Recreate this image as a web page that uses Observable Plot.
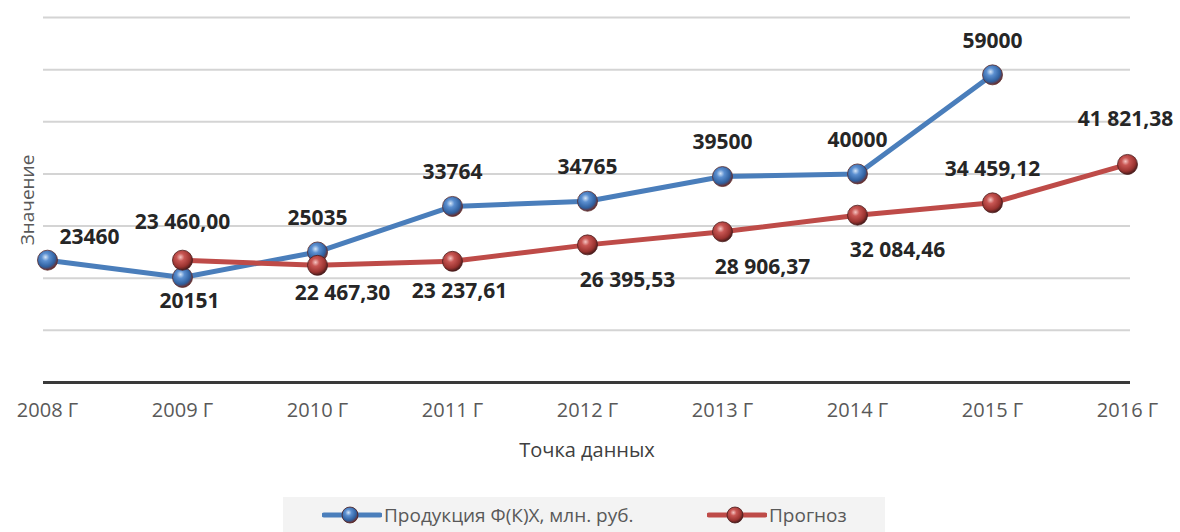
<!DOCTYPE html>
<html>
<head>
<meta charset="utf-8">
<script src="https://cdn.jsdelivr.net/npm/d3@7"></script>
<script src="https://cdn.jsdelivr.net/npm/@observablehq/plot@0.6"></script>
<style>
  html, body { margin: 0; padding: 0; background: #fff; }
  #wrap { position: relative; width: 1180px; height: 532px; font-family: "Open Sans", sans-serif; }
  #legend { position: absolute; left: 283px; top: 497px; width: 602px; height: 35px; background: #f3f3f3; }
  .item { position: absolute; top: 0; height: 35px; display: flex; align-items: center; font-size: 19px; color: #595959; white-space: nowrap; }
  .item svg { margin-right: 2px; }
</style>
</head>
<body>
<div id="wrap"><div id="chart"></div><div id="legend"></div></div>
<script>
// ---- data ----
const years = [2008, 2009, 2010, 2011, 2012, 2013, 2014, 2015, 2016];
const productionYears = [2008, 2009, 2010, 2011, 2012, 2013, 2014, 2015];
const productionValues = [23460, 20151, 25035, 33764, 34765, 39500, 40000, 59000];
const forecastYears = [2009, 2010, 2011, 2012, 2013, 2014, 2015, 2016];
const forecastValues = [23460.00, 22467.30, 23237.61, 26395.53, 28906.37, 32084.46, 34459.12, 41821.38];
const gridValues = [10000, 20000, 30000, 40000, 50000, 60000, 70000];
const seriesNames = ["Продукция Ф(К)Х, млн. руб.", "Прогноз"];
const xTitle = "Точка данных";
const yTitle = "Значение";

// label placement keys (style, not data)
const productionPlacement = ["ne", "s", "n", "n", "n", "n", "n", "n"];
const forecastPlacement = ["n2", "se1", "s1", "se2", "se2", "se2", "n", "n3"];
const placements = {
  n: {dx: 0, dy: -34}, n2: {dx: 0, dy: -38}, n3: {dx: -2, dy: -45},
  ne: {dx: 42, dy: -23}, s: {dx: 7, dy: 24},
  se1: {dx: 25, dy: 28}, s1: {dx: 7, dy: 30}, se2: {dx: 40, dy: 35}
};

const BLUE = "#4a7ebb", RED = "#be4b48";
const ru = d3.formatLocale({decimal: ",", thousands: "\u00a0", grouping: [3], currency: ["", ""]});
const fmt2 = ru.format(",.2f");

const production = productionYears.map((y, i) => ({year: y, value: productionValues[i], label: String(productionValues[i]), place: productionPlacement[i]}));
const forecast = forecastYears.map((y, i) => ({year: y, value: forecastValues[i], label: fmt2(forecastValues[i]), place: forecastPlacement[i]}));

function labelMarks(data) {
  return Object.keys(placements).map(k => Plot.text(data.filter(d => d.place === k), {
    x: "year", y: "value", text: "label",
    dx: placements[k].dx, dy: placements[k].dy,
    fontSize: 21, fontWeight: "bold", fill: "#262626"
  }));
}

const chart = Plot.plot({
  width: 1180, height: 490,
  marginLeft: 43, marginRight: 50, marginTop: 17, marginBottom: 108,
  style: {fontFamily: "'Open Sans', sans-serif", background: "transparent", overflow: "visible"},
  x: {type: "point", domain: years, padding: 0, axis: null},
  y: {domain: [0, 70000], axis: null},
  marks: [
    Plot.ruleY(gridValues, {stroke: "#d4d4d4", strokeWidth: 2}),
    Plot.ruleY([0], {stroke: "#3a3a3a", strokeWidth: 3}),
    Plot.text(years, {x: d => d, frameAnchor: "bottom", lineAnchor: "middle", dy: 28, text: d => d + " Г", fontSize: 20, fill: "#595959"}),
    Plot.text([xTitle], {frameAnchor: "bottom", lineAnchor: "middle", dy: 68, fontSize: 20, fill: "#404040"}),
    Plot.text([yTitle], {frameAnchor: "left", textAnchor: "middle", lineAnchor: "middle", dx: -16, rotate: -90, fontSize: 19, fill: "#595959"}),
    Plot.line(production, {x: "year", y: "value", stroke: BLUE, strokeWidth: 5}),
    Plot.line(forecast, {x: "year", y: "value", stroke: RED, strokeWidth: 5}),
    Plot.dot(production, {x: "year", y: "value", r: 10, fill: "url(#sphereBlue)", stroke: "#5a2b2b", strokeWidth: 0.8}),
    Plot.dot(forecast, {x: "year", y: "value", r: 10, fill: "url(#sphereRed)", stroke: "#4a1c1c", strokeWidth: 0.8}),
    ...labelMarks(production),
    ...labelMarks(forecast)
  ]
});

const defs = `
<radialGradient id="sphereBlue" cx="40%" cy="35%" r="65%">
  <stop offset="0%" stop-color="#d6e6f8"/>
  <stop offset="30%" stop-color="#5b8fd0"/>
  <stop offset="75%" stop-color="#2f5f9e"/>
  <stop offset="100%" stop-color="#6a2e2e"/>
</radialGradient>
<radialGradient id="sphereRed" cx="40%" cy="35%" r="65%">
  <stop offset="0%" stop-color="#f5c4c1"/>
  <stop offset="30%" stop-color="#c85653"/>
  <stop offset="75%" stop-color="#9a3330"/>
  <stop offset="100%" stop-color="#4a1c1c"/>
</radialGradient>`;
const d = document.createElementNS("http://www.w3.org/2000/svg", "defs");
d.innerHTML = defs;
chart.insertBefore(d, chart.firstChild);
document.getElementById("chart").appendChild(chart);

// legend
function swatch(color, grad) {
  return `<svg width="60" height="22" viewBox="0 0 60 22">
    <line x1="2" y1="11" x2="58" y2="11" stroke="${color}" stroke-width="5" stroke-linecap="round"/>
    <circle cx="28" cy="11" r="8" fill="url(#${grad})" stroke="#4a1c1c" stroke-width="0.8"/>
  </svg>`;
}
const legend = document.getElementById("legend");
const items = [
  {left: 322 - 283, color: BLUE, grad: "sphereBlue", text: seriesNames[0]},
  {left: 707 - 283, color: RED, grad: "sphereRed", text: seriesNames[1]}
];
items.forEach(it => {
  const el = document.createElement("div");
  el.className = "item";
  el.style.left = it.left + "px";
  el.innerHTML = swatch(it.color, it.grad) + `<span>${it.text}</span>`;
  legend.appendChild(el);
});
</script>
</body>
</html>
